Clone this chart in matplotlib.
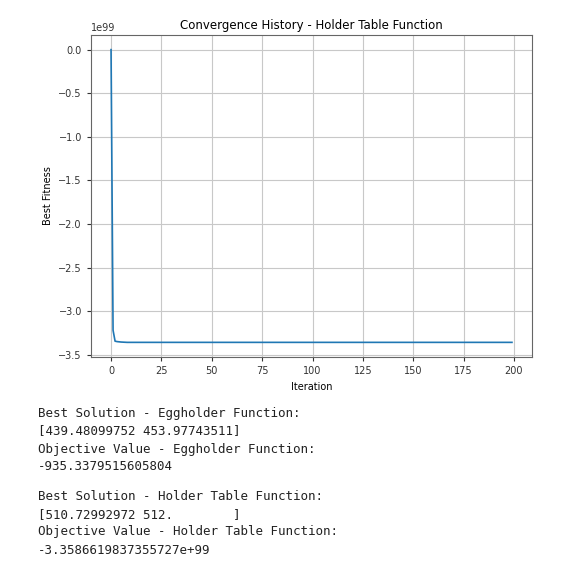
import numpy as np
import matplotlib
matplotlib.use("Agg")
import matplotlib.pyplot as plt

# Convergence history (best fitness per iteration)
iterations = [0, 1, 2, 3, 5, 8, 199]
best_fitness = [0.0, -3.22e99, -3.345e99, -3.35e99, -3.355e99, -3.3587e99, -3.3587e99]

# Printed output below the plot
output_lines = [
    "Best Solution - Eggholder Function:",
    "[439.48099752 453.97743511]",
    "Objective Value - Eggholder Function:",
    "-935.3379515605804",
    "",
    "Best Solution - Holder Table Function:",
    "[510.72992972 512.        ]",
    "Objective Value - Holder Table Function:",
    "-3.3586619837355727e+99",
]
line_y_px = [413, 431, 449, 466, 0, 497, 515, 532, 550]

W, H = 580, 568
fig = plt.figure(figsize=(W / 100, H / 100), dpi=100)
ax = fig.add_axes([91 / W, 1 - 357 / H, (532 - 91) / W, (357 - 35) / H])

ax.plot(iterations, best_fitness, color="#1f77b4", linewidth=1.2)
ax.set_title("Convergence History - Holder Table Function", fontsize=8.5, pad=4)
ax.set_xlabel("Iteration", fontsize=7)
ax.set_ylabel("Best Fitness", fontsize=7)
ax.set_xticks([0, 25, 50, 75, 100, 125, 150, 175, 200])
ax.tick_params(labelsize=7, colors="#333333", length=3)
ax.yaxis.get_offset_text().set_fontsize(7)
ax.grid(True, color="#c8c8c8", linewidth=0.8)
for s in ax.spines.values():
    s.set_color("#666666")

for txt, ypx in zip(output_lines, line_y_px):
    if txt:
        fig.text(38 / W, 1 - ypx / H, txt, family="DejaVu Sans Mono",
                 fontsize=9, va="center", ha="left", color="#222222")

fig.savefig("out.png", dpi=100)
